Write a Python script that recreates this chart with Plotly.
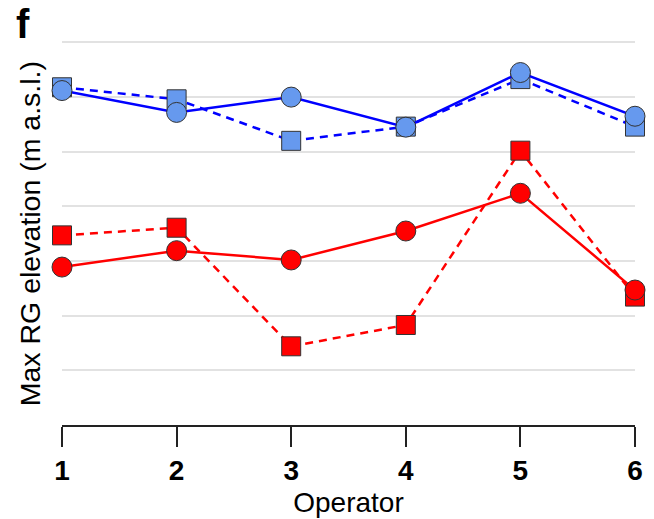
import plotly.graph_objects as go

# Operators on the x axis
operators = [1, 2, 3, 4, 5, 6]

# Max RG elevation per operator (gridline units), two runs per group
blue_circle = [6.12, 5.72, 6.00, 5.45, 6.45, 5.65]
blue_square = [6.18, 5.96, 5.20, 5.46, 6.33, 5.46]
red_circle = [2.89, 3.19, 3.02, 3.55, 4.24, 2.47]
red_square = [3.47, 3.61, 1.44, 1.83, 5.02, 2.35]

gridlines = [1, 2, 3, 4, 5, 6, 7]

BLUE_LINE = "#0000ff"
BLUE_FILL = "#6699ee"
RED_LINE = "#ff0000"
RED_FILL = "#ff0000"
EDGE = "#333333"

fig = go.Figure()


def add_series(y, line_color, fill, symbol, dash, size):
    fig.add_trace(go.Scatter(
        x=operators, y=y, mode="lines+markers", cliponaxis=False,
        line=dict(color=line_color, width=2.5, dash=dash),
        marker=dict(symbol=symbol, size=size, color=fill,
                    line=dict(color=EDGE, width=1)),
        showlegend=False,
    ))


# dashed square series underneath, solid circle series on top
add_series(red_square, RED_LINE, RED_FILL, "square", "8px,6px", 19)
add_series(blue_square, BLUE_LINE, BLUE_FILL, "square", "8px,6px", 19)
add_series(red_circle, RED_LINE, RED_FILL, "circle", "solid", 20)
add_series(blue_circle, BLUE_LINE, BLUE_FILL, "circle", "solid", 20)

fig.update_layout(
    width=654, height=519,
    margin=dict(l=62, r=19, t=37, b=94),
    plot_bgcolor="white", paper_bgcolor="white",
    font=dict(family="Liberation Sans, Arial, sans-serif", color="black"),
    xaxis=dict(
        range=[1, 6], tickvals=operators, ticktext=[str(o) for o in operators],
        automargin=False,
        showgrid=False, zeroline=False,
        showline=True, linecolor="#222222", linewidth=1.5,
        ticks="outside", ticklen=20, tickwidth=1.5, tickcolor="#222222",
        tickfont=dict(size=28, weight="bold", color="black"),
        title=dict(text="Operator", font=dict(size=28), standoff=7),
    ),
    yaxis=dict(
        range=[0, 7.1], tickvals=gridlines, showticklabels=False,
        automargin=False,
        showgrid=True, gridcolor="#e2e2e2", gridwidth=2,
        zeroline=False, showline=False, ticks="",
    ),
    annotations=[
        dict(text="Max RG elevation (m a.s.l.)", textangle=-90,
             xref="paper", yref="paper", x=-0.056, y=0.494,
             xanchor="center", yanchor="middle", showarrow=False,
             font=dict(size=28.5, color="black")),
        dict(text="<b>f</b>", xref="paper", yref="paper",
             x=-0.084, y=1.095, xanchor="left", yanchor="top",
             showarrow=False, font=dict(size=40, color="black")),
    ],
)

fig.write_html("out.html")
